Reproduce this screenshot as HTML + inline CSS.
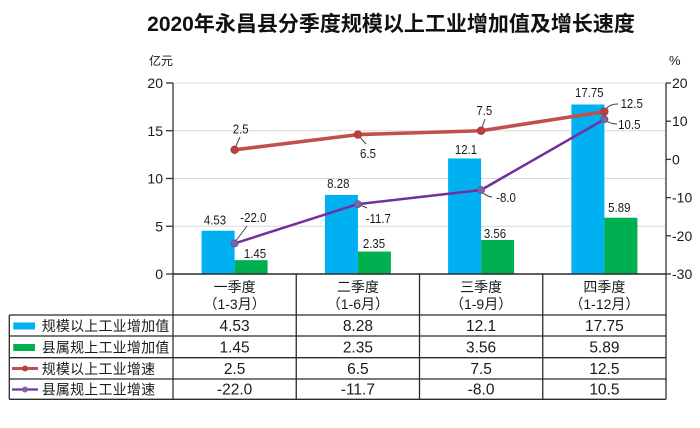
<!DOCTYPE html>
<html><head><meta charset="utf-8"><style>
html,body{margin:0;padding:0;background:#fff;}
svg{display:block;}
text{fill:#1a1a1a;}
.n{font-family:"Liberation Sans",sans-serif;font-size:13px;}
.t{font-family:"Liberation Sans",sans-serif;font-size:14px;}
.v{font-family:"Liberation Sans",sans-serif;font-size:15.5px;}
.c{font-family:"Liberation Sans","Noto Sans CJK SC",sans-serif;font-size:14px;}
</style></head><body>
<svg width="700" height="428" viewBox="0 0 700 428" xmlns="http://www.w3.org/2000/svg">
<rect width="700" height="428" fill="#fff"/>
<!-- title -->
<text x="391" y="31" text-anchor="middle" style="font-family:'Liberation Sans','Noto Sans CJK SC',sans-serif;font-size:21px;font-weight:bold;fill:#111">2020年永昌县分季度规模以上工业增加值及增长速度</text>
<!-- units -->
<text x="149" y="65" style="font-family:'Liberation Sans','Noto Sans CJK SC',sans-serif;font-size:12px">亿元</text>
<text x="669" y="65" class="t" style="font-size:13px">%</text>
<!-- gridlines -->
<g stroke="#d9d9d9" stroke-width="1">
<line x1="173" y1="83" x2="666" y2="83"/>
<line x1="173" y1="130.75" x2="666" y2="130.75"/>
<line x1="173" y1="178.5" x2="666" y2="178.5"/>
<line x1="173" y1="226.25" x2="666" y2="226.25"/>
</g>
<!-- bars -->
<g fill="#00b0f0">
<rect x="201.6" y="230.74" width="33" height="43.26"/>
<rect x="324.9" y="194.93" width="33" height="79.07"/>
<rect x="448.1" y="158.44" width="33" height="115.56"/>
<rect x="571.4" y="104.49" width="33" height="169.51"/>
</g>
<g fill="#00b050">
<rect x="234.6" y="260.15" width="33" height="13.85"/>
<rect x="357.9" y="251.56" width="33" height="22.44"/>
<rect x="481.1" y="240" width="33" height="34"/>
<rect x="604.4" y="217.75" width="33" height="56.25"/>
</g>
<!-- axes -->
<g stroke="#333" stroke-width="1.3" fill="none">
<line x1="173" y1="83" x2="173" y2="399.3"/>
<line x1="666" y1="83" x2="666" y2="399.3"/>
<line x1="166" y1="83" x2="173" y2="83"/>
<line x1="166" y1="130.75" x2="173" y2="130.75"/>
<line x1="166" y1="178.5" x2="173" y2="178.5"/>
<line x1="166" y1="226.25" x2="173" y2="226.25"/>
<line x1="166" y1="274" x2="173" y2="274"/>
<line x1="666" y1="83" x2="671" y2="83"/>
<line x1="666" y1="121.2" x2="671" y2="121.2"/>
<line x1="666" y1="159.4" x2="671" y2="159.4"/>
<line x1="666" y1="197.6" x2="671" y2="197.6"/>
<line x1="666" y1="235.8" x2="671" y2="235.8"/>
<line x1="666" y1="274" x2="671" y2="274"/>
</g>
<!-- left tick labels -->
<g class="t" text-anchor="end">
<text x="163" y="88">20</text>
<text x="163" y="135.75">15</text>
<text x="163" y="183.5">10</text>
<text x="163" y="231.25">5</text>
<text x="163" y="279">0</text>
</g>
<g class="t">
<text x="672" y="88">20</text>
<text x="672" y="126.2">10</text>
<text x="672" y="164.4">0</text>
<text x="672" y="202.6">-10</text>
<text x="672" y="240.8">-20</text>
<text x="672" y="279">-30</text>
</g>
<!-- leader lines -->
<g stroke="#444" stroke-width="1" fill="none">
<path d="M235 148 L240 137"/>
<path d="M235 242 L247 226"/>
<path d="M358 135 L366 144"/>
<path d="M358 204 L367 208"/>
<path d="M481 130 L485 119"/>
<path d="M481 189 Q484 196 492 197"/>
<path d="M605 111 Q608 104 618 104"/>
<path d="M604 119 Q609 124 617 124"/>
</g>
<!-- red line -->
<polyline points="234.6,149.8 357.9,134.6 481.1,130.75 604.4,111.65" fill="none" stroke="#c0504d" stroke-width="3.6" stroke-linejoin="round"/>
<g fill="#b8403d" stroke="#a83a37" stroke-width="0.8">
<circle cx="234.6" cy="149.8" r="3.8"/><circle cx="357.9" cy="134.6" r="3.8"/><circle cx="481.1" cy="130.75" r="3.8"/><circle cx="604.4" cy="111.65" r="3.8"/>
</g>
<!-- purple line -->
<polyline points="234.6,243.4 357.9,204.1 481.1,190 604.4,119.3" fill="none" stroke="#7030a0" stroke-width="2.5" stroke-linejoin="round"/>
<g fill="#8064a2" stroke="#6a4c90" stroke-width="0.8">
<circle cx="234.6" cy="243.4" r="3.5"/><circle cx="357.9" cy="204.1" r="3.5"/><circle cx="481.1" cy="190" r="3.5"/><circle cx="604.4" cy="119.3" r="3.5"/>
</g>
<!-- data labels -->
<g class="n" text-anchor="middle">
<text transform="translate(215,224.5) scale(0.88,1)">4.53</text>
<text transform="translate(253.3,222) scale(0.88,1)">-22.0</text>
<text transform="translate(255,258) scale(0.88,1)">1.45</text>
<text transform="translate(338.3,188) scale(0.88,1)">8.28</text>
<text transform="translate(378.3,223) scale(0.88,1)">-11.7</text>
<text transform="translate(374,248) scale(0.88,1)">2.35</text>
<text transform="translate(466,154) scale(0.88,1)">12.1</text>
<text transform="translate(506,202) scale(0.88,1)">-8.0</text>
<text transform="translate(495,238) scale(0.88,1)">3.56</text>
<text transform="translate(589.3,97) scale(0.88,1)">17.75</text>
<text transform="translate(631.7,108) scale(0.88,1)">12.5</text>
<text transform="translate(629.3,129) scale(0.88,1)">10.5</text>
<text transform="translate(619.3,212) scale(0.88,1)">5.89</text>
<text transform="translate(240.7,133.5) scale(0.88,1)">2.5</text>
<text transform="translate(368,158) scale(0.88,1)">6.5</text>
<text transform="translate(484.3,115) scale(0.88,1)">7.5</text>
</g>
<!-- table -->
<g stroke="#2a2a2a" stroke-width="1.3" fill="none">
<line x1="173" y1="274" x2="666" y2="274" stroke-width="1.6"/>
<line x1="9.3" y1="315" x2="666" y2="315"/>
<line x1="9.3" y1="336" x2="666" y2="336"/>
<line x1="9.3" y1="357.7" x2="666" y2="357.7"/>
<line x1="9.3" y1="379" x2="666" y2="379"/>
<line x1="9.3" y1="399.3" x2="666" y2="399.3"/>
<line x1="9.3" y1="315" x2="9.3" y2="399.3"/>
<line x1="296.25" y1="274" x2="296.25" y2="399.3"/>
<line x1="419.5" y1="274" x2="419.5" y2="399.3"/>
<line x1="542.75" y1="274" x2="542.75" y2="399.3"/>
</g>
<g class="c" text-anchor="middle">
<text x="234.6" y="292">一季度</text>
<text x="234.6" y="309">（1-3月）</text>
<text x="357.9" y="292">二季度</text>
<text x="357.9" y="309">（1-6月）</text>
<text x="481.1" y="292">三季度</text>
<text x="481.1" y="309">（1-9月）</text>
<text x="604.4" y="292">四季度</text>
<text x="604.4" y="309">（1-12月）</text>
</g>
<g class="v" text-anchor="middle">
<text x="234.6" y="331">4.53</text>
<text x="357.9" y="331">8.28</text>
<text x="481.1" y="331">12.1</text>
<text x="604.4" y="331">17.75</text>
<text x="234.6" y="352.5">1.45</text>
<text x="357.9" y="352.5">2.35</text>
<text x="481.1" y="352.5">3.56</text>
<text x="604.4" y="352.5">5.89</text>
<text x="234.6" y="374">2.5</text>
<text x="357.9" y="374">6.5</text>
<text x="481.1" y="374">7.5</text>
<text x="604.4" y="374">12.5</text>
<text x="234.6" y="394.5">-22.0</text>
<text x="357.9" y="394.5">-11.7</text>
<text x="481.1" y="394.5">-8.0</text>
<text x="604.4" y="394.5">10.5</text>
</g>
<!-- legend -->
<rect x="13.3" y="322.5" width="21.7" height="7" fill="#00b0f0"/>
<rect x="13.3" y="344" width="21.7" height="7" fill="#00b050"/>
<line x1="12" y1="368.5" x2="38" y2="368.5" stroke="#c0504d" stroke-width="3"/>
<circle cx="25" cy="368.5" r="3" fill="#b8403d"/>
<line x1="12" y1="389.5" x2="38" y2="389.5" stroke="#7030a0" stroke-width="2.2"/>
<circle cx="25" cy="389.5" r="3" fill="#8064a2"/>
<g class="c" style="letter-spacing:0.2px">
<text x="41.7" y="331">规模以上工业增加值</text>
<text x="41.7" y="352.5">县属规上工业增加值</text>
<text x="41.7" y="374">规模以上工业增速</text>
<text x="41.7" y="394.5">县属规上工业增速</text>
</g>
</svg>
</body></html>
